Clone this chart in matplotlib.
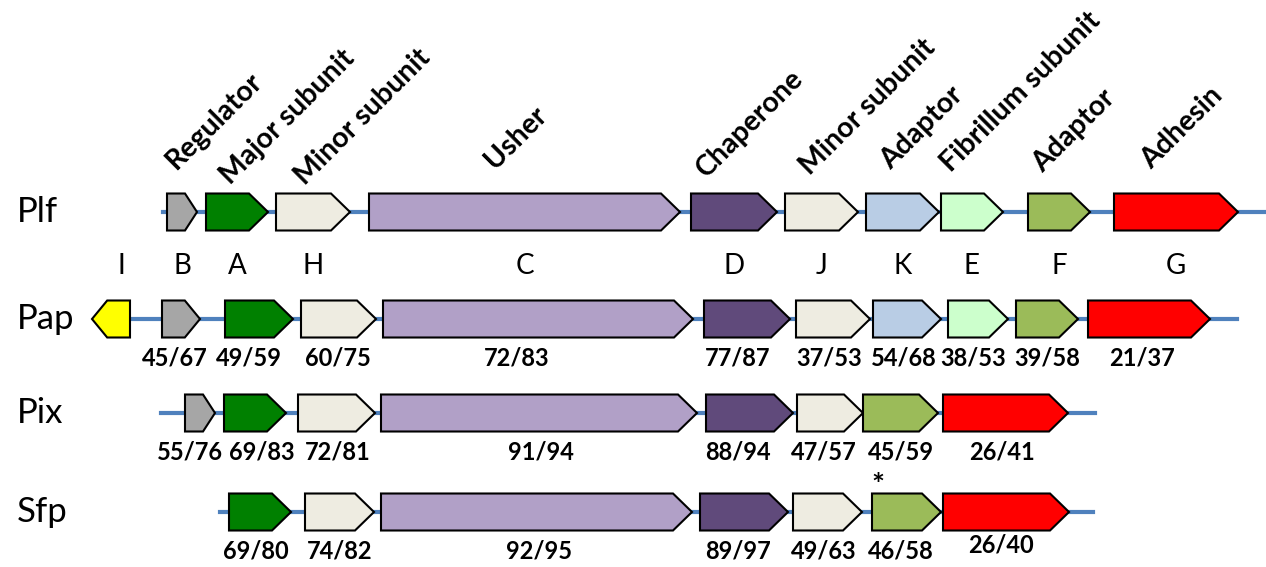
import matplotlib.pyplot as plt
from matplotlib.patches import Polygon

# gene colours by letter
colors = {
    'I': '#FFFF00', 'B': '#A6A6A6', 'A': '#008000', 'H': '#EEECE1',
    'C': '#B1A0C7', 'D': '#604A7B', 'J': '#EEECE1', 'K': '#B9CDE5',
    'E': '#CCFFCC', 'F': '#9BBB59', 'G': '#FF0000',
}

# clusters: gene letters, start / end coordinates, identity/similarity
plf_genes = ['B', 'A', 'H', 'C', 'D', 'J', 'K', 'E', 'F', 'G']
plf_start = [167, 206, 276, 369, 691, 785, 866, 941, 1028, 1114]
plf_end = [197, 268, 350, 680, 777, 858, 939, 1003, 1090, 1238]
plf_line = (163, 1266)
plf_roles = ['Regulator', 'Major subunit', 'Minor subunit', 'Usher', 'Chaperone',
             'Minor subunit', 'Adaptor', 'Fibrillum subunit', 'Adaptor', 'Adhesin']

pap_genes = ['I', 'B', 'A', 'H', 'C', 'D', 'J', 'K', 'E', 'F', 'G']
pap_start = [92, 162, 225, 301, 383, 704, 796, 873, 948, 1016, 1088]
pap_end = [130, 200, 293, 376, 693, 790, 870, 941, 1008, 1078, 1210]
pap_line = (130, 1237)
pap_ident = ['', '45/67', '49/59', '60/75', '72/83', '77/87', '37/53', '54/68',
             '38/53', '39/58', '21/37']

pix_genes = ['B', 'A', 'H', 'C', 'D', 'J', 'F', 'G']
pix_start = [185, 224, 298, 381, 706, 797, 863, 943]
pix_end = [215, 286, 375, 697, 793, 863, 938, 1068]
pix_line = (161, 1095)
pix_ident = ['55/76', '69/83', '72/81', '91/94', '88/94', '47/57', '45/59', '26/41']

sfp_genes = ['A', 'H', 'C', 'D', 'J', 'F', 'G']
sfp_start = [229, 305, 381, 700, 793, 872, 943]
sfp_end = [291, 374, 692, 788, 862, 941, 1069]
sfp_line = (220, 1093)
sfp_ident = ['69/80', '74/82', '92/95', '89/97', '49/63', '46/58', '26/40']

FONT = 'Lato'
HALF = 18.5

# small horizontal nudges of the identity labels (layout only)
pap_dx = [0, -6, -10, -1, -21, -9, -4, -3, -5, 0, -7]
pix_dx = [-10, 7, 1, 2, -12, -6, 0, -3]
sfp_dx = [-4, 0, 3, -6, -4, -6, -5]
sfp_dy = [0, 0, 0, 0, 0, 0, -6]


def gene_arrow(ax, x0, x1, y, color, reverse=False):
    length = x1 - x0
    head = min(19, length * 0.4)
    if not reverse:
        pts = [(x0, y - HALF), (x1 - head, y - HALF), (x1, y),
               (x1 - head, y + HALF), (x0, y + HALF)]
    else:
        pts = [(x1, y - HALF), (x0 + head, y - HALF), (x0, y),
               (x0 + head, y + HALF), (x1, y + HALF)]
    ax.add_patch(Polygon(pts, closed=True, facecolor=color, edgecolor='black',
                         linewidth=1.5, joinstyle='miter', zorder=3))


def draw_cluster(ax, name, y, genes, starts, ends, line, idents=None, dx=None, dy=None):
    ax.plot(line, [y, y], color='#4F81BD', linewidth=3, zorder=1)
    for g, s, e in zip(genes, starts, ends):
        gene_arrow(ax, s, e, y, colors[g], reverse=(g == 'I'))
    ax.text(17, y, name, fontsize=25, family=FONT, ha='left', va='center')
    if idents:
        dy = dy or [0] * len(idents)
        for s, e, t, ox, oy in zip(starts, ends, idents, dx, dy):
            if t:
                ax.text((s + e) / 2 + ox, y + 39 + oy, t, fontsize=17, family=FONT,
                        fontweight='bold', ha='center', va='center')


fig = plt.figure(figsize=(12.66, 5.67), dpi=100)
ax = fig.add_axes([0, 0, 1, 1])
ax.set_xlim(0, 1266)
ax.set_ylim(567, 0)
ax.axis('off')

draw_cluster(ax, 'Plf', 212, plf_genes, plf_start, plf_end, plf_line)
draw_cluster(ax, 'Pap', 319, pap_genes, pap_start, pap_end, pap_line, pap_ident, pap_dx)
draw_cluster(ax, 'Pix', 413, pix_genes, pix_start, pix_end, pix_line, pix_ident, pix_dx)
draw_cluster(ax, 'Sfp', 512, sfp_genes, sfp_start, sfp_end, sfp_line, sfp_ident,
             sfp_dx, sfp_dy)

# role labels above Plf, rotated 45 degrees
role_offsets = [(9, 170), (24, 185), (29, 186), (126, 170), (15, 178),
                (25, 176), (25, 170), (10, 173), (15, 173), (37, 170)]
for s, r, (ox, yb) in zip(plf_start, plf_roles, role_offsets):
    ax.text(s + ox, yb, r, rotation=45, rotation_mode='anchor', fontsize=20.5,
            family=FONT, fontweight='bold', ha='left', va='baseline')

# gene letters between Plf and Pap (centred over the Plf genes)
letter_x = [121] + [(s + e) / 2 for s, e in zip(plf_start, plf_end)]
for g, x in zip(pap_genes, letter_x):
    ax.text(x, 266, g, fontsize=20, family=FONT, ha='center', va='center')

# asterisk on Sfp F
ax.text(sfp_start[5] + 6, 486, '*', fontsize=22, family=FONT,
        fontweight='bold', ha='center', va='center')

fig.savefig('out.png', dpi=100)
